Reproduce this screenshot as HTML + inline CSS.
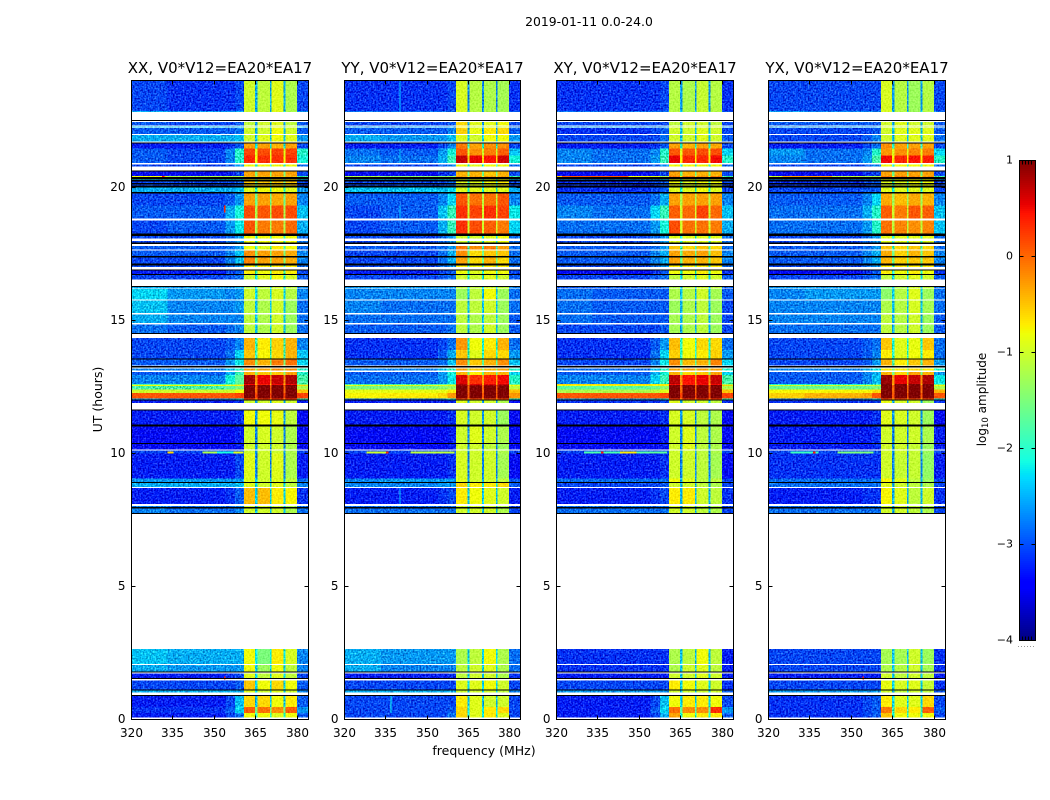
<!DOCTYPE html>
<html lang="en">
<head>
<meta charset="utf-8">
<title>2019-01-11 0.0-24.0 spectrogram</title>
<style>
html,body{margin:0;padding:0;background:#fff;width:1050px;height:800px;overflow:hidden}
svg{display:block}
text{font-family:"DejaVu Sans","Liberation Sans",sans-serif;fill:#000}
</style>
</head>
<body>
<svg id="figure" xmlns="http://www.w3.org/2000/svg" width="1050" height="800" viewBox="0 0 1050 800">
<defs>
<filter id="speckle" filterUnits="userSpaceOnUse" x="0" y="0" width="1050" height="800" color-interpolation-filters="sRGB">
<feTurbulence type="fractalNoise" baseFrequency="0.6" numOctaves="1" seed="4" result="t"/>
<feColorMatrix in="t" type="matrix" values="1 0 0 0 0 1 0 0 0 0 1 0 0 0 0 0 0 0 0 1" result="g"/>
<feComposite in="SourceGraphic" in2="g" operator="arithmetic" k1="0" k2="1" k3="1" k4="-0.53" result="n"/>
<feComposite in="n" in2="SourceGraphic" operator="in"/>
</filter>
<filter id="grain" filterUnits="userSpaceOnUse" x="0" y="0" width="1050" height="800" color-interpolation-filters="sRGB">
<feTurbulence type="fractalNoise" baseFrequency="0.6" numOctaves="1" seed="9" result="t"/>
<feColorMatrix in="t" type="matrix" values="1 0 0 0 0 1 0 0 0 0 1 0 0 0 0 0 0 0 0 1" result="g"/>
<feComposite in="SourceGraphic" in2="g" operator="arithmetic" k1="0" k2="1" k3="0.35" k4="-0.175" result="n"/>
<feComposite in="n" in2="SourceGraphic" operator="in"/>
</filter>
</defs>
<text x="589" y="26" font-size="12.4" text-anchor="middle">2019-01-11 0.0-24.0</text>
<text x="484" y="755" font-size="12.5" text-anchor="middle">frequency (MHz)</text>
<text transform="translate(102,399.5) rotate(-90)" font-size="12.5" text-anchor="middle">UT (hours)</text>
<text transform="translate(986,399.5) rotate(-90)" font-size="12" text-anchor="middle">log<tspan font-size="8.5" dy="2">10</tspan><tspan dy="-2"> amplitude</tspan></text>
</svg>
<script>
// ---------- chart data ----------
const panelTitles = ["XX, V0*V12=EA20*EA17","YY, V0*V12=EA20*EA17","XY, V0*V12=EA20*EA17","YX, V0*V12=EA20*EA17"];
const freqTicks = [320,335,350,365,380];
const utTicks = [0,5,10,15,20];
const colorTicks = [1,0,-1,-2,-3,-4];
const colorTickLabels = ["1","0","\u22121","\u22122","\u22123","\u22124"];
const colorMin = -4;
const colorMax = 1;
const freqRange = [320,384];
const utRange = [0,24];

// Frequency bands in MHz; band index refers to a column of the level rows.
// Level row columns: 0 left-low, 1 left-high, 2 shoulder-a, 3 shoulder-b, 4..7 spectral windows, 8 window gaps, 9 right edge
const bandStarts = [320,333,354,357.5,360.6,364.7,365.5,370,370.7,375,375.7,379.9];
const bandEnds   = [333,354,357.5,360.6,364.7,365.5,370,370.7,375,375.7,379.9,384];
const bandColumns = [0,1,2,3,4,8,5,8,6,8,7,9];

// UT spans (hours) with valid data; anything else stays white.
const dataSpans = [[24,22.85],[22.85,22.81],[22.45,22.31],[22.28,22.25],[22.21,22],[21.96,21.71],[21.65,21.45],[21.45,21.19],[21.19,20.9],[20.85,20.77],[20.58,20.42],[20.42,20.37],[20.3,20.28],[20.21,20.15],[20.1,20.06],[19.99,19.81],[19.75,19.31],[19.31,18.81],[18.75,18.25],[18.16,18.06],[17.97,17.92],[17.79,17.66],[17.62,17.4],[17.35,17.12],[17.06,16.99],[16.87,16.74],[16.71,16.53],[16.25,16.19],[16.16,15.78],[15.74,15.26],[15.22,14.89],[14.83,14.52],[14.33,13.87],[13.87,13.55],[13.52,13.3],[13.18,13.11],[13.05,12.93],[12.93,12.61],[12.61,12.57],[12.57,12.52],[12.52,12.39],[12.39,12.26],[12.26,12.05],[12.05,12.01],[11.98,11.89],[11.62,11.08],[11,10.38],[10.35,10.14],[10.1,10.06],[10.06,10],[10,9.05],[9.05,8.92],[8.88,8.74],[8.7,8.09],[8.01,7.99],[7.93,7.76],[2.65,2.08],[2.05,1.81],[1.72,1.56],[1.46,1.13],[1.11,1.01],[0.89,0.47],[0.47,0.24],[0.24,0.08]];
// UT spans flagged black in every panel.
const blackSpans = [[22.52,22.48],[21.67,21.65],[20.62,20.58],[20.37,20.3],[20.28,20.21],[20.15,20.1],[20.06,19.99],[19.81,19.75],[18.25,18.16],[17.92,17.85],[17.4,17.35],[17.12,17.06],[16.91,16.87],[16.74,16.71],[16.28,16.25],[14.52,14.47],[13.55,13.52],[13.27,13.23],[12.01,11.98],[11.64,11.62],[11.08,11],[10.38,10.35],[8.92,8.88],[7.99,7.93],[7.76,7.72],[1.81,1.78],[1.56,1.52],[1.13,1.11],[0.92,0.89]];

const xxLevels = [
[-3,-3.1,-3.1,-3,-1,-1.1,-.9,-1.2,-2.5,-3],[-2.5,-2.6,-2.6,-2.5,-1,-1.1,-.9,-1.2,-2.3,-2.6],[-2.9,-3,-3,-2.9,-1.1,-1,-.9,-1.1,-2.6,-2.9],[-2.4,-2.4,-2.4,-2.4,-1,-1,-.9,-1,-2.3,-2.5],[-2.9,-2.9,-2.9,-2.8,-1,-1,-.8,-1,-2.5,-2.9],[-2.5,-2.5,-2.5,-2.4,-1,-.9,-.8,-.9,-2.4,-2.6],[-3.2,-3.2,-3.1,-2.9,-.3,-.3,-.4,-.3,-2.2,-3],[-2.9,-3,-2.7,-2,.2,.15,.2,.2,-.9,-2],[-2.9,-3,-2.7,-2,.35,.3,.3,.3,-.8,-2.1],[-3,-3,-2.9,-2.6,-.8,-.8,-.8,-.8,-2,-2.8],[-3.3,-3.3,-3.2,-3,-.3,-.3,-.3,-.3,-1.5,-3],[-.8,-1.2,-1.2,-1.2,-.4,-.4,-.4,-.4,-1,-1.8],[-2.3,-2.3,-2.2,-2.2,-.6,-.6,-.6,-.6,-1.8,-2.4],[-3,-3,-3,-2.9,-.5,-.5,-.5,-.5,-1.6,-3],[-3,-3,-3,-2.9,-.5,-.5,-.5,-.5,-1.6,-3],[-2.5,-2.5,-2.5,-2.4,-.9,-.8,-.8,-.9,-2,-2.6],[-3,-3,-2.9,-2.6,-.3,-.3,-.35,-.3,-1.6,-2.7],[-2.9,-2.9,-2.5,-2.1,.15,.1,.15,.15,-1.2,-2.4],[-3,-2.9,-2.6,-2.2,.1,-.1,-.1,0,-1.2,-2.5],[-3,-3,-2.8,-2.6,-.8,-.8,-.8,-.8,-2,-2.8],[-3,-3,-2.8,-2.6,-.8,-.8,-.8,-.8,-2,-2.8],[-2.9,-2.9,-2.8,-2.6,-.8,-.9,-.7,-.8,-1.9,-2.8],[-2.9,-2.9,-2.7,-2.4,-.2,-.3,-.3,-.35,-1.5,-2.7],[-3,-3,-2.7,-2.4,-.15,-.3,-.3,-.35,-1.5,-2.7],[-3,-3,-2.8,-2.6,-.7,-.7,-.7,-.7,-1.8,-2.8],[-3.2,-3.2,-3,-2.9,-.7,-.8,-.7,-.7,-1.9,-3],[-3,-3,-2.9,-2.8,-1,-.9,-.8,-.95,-2.2,-2.9],[-2.5,-2.6,-2.6,-2.5,-1.2,-1.1,-1,-1.1,-2.3,-2.7],[-2.3,-2.6,-2.7,-2.6,-1,-1.1,-.95,-1.15,-2.3,-2.7],[-2.4,-2.7,-2.7,-2.6,-1.1,-1.2,-1,-1.3,-2.4,-2.8],[-2.5,-2.7,-2.7,-2.7,-1.1,-1.2,-1,-1.3,-2.4,-2.8],[-2.8,-2.9,-2.8,-2.7,-1.1,-1.2,-1,-1.3,-2.4,-2.8],[-3,-3,-2.9,-2.7,-.4,-.7,-.55,-.4,-1.9,-2.7],[-3,-3,-2.8,-2.3,-.5,-.75,-.6,-.4,-1.9,-2.4],[-2.9,-2.9,-2.6,-2.2,-.2,-.4,-.1,-.05,-1.5,-2.3],[-2.7,-2.7,-2.4,-2,-.3,-.3,-.2,-.2,-1.2,-2],[-2.9,-2.9,-2.5,-1.9,-.4,-.5,-.5,-.3,-1.4,-2],[-2.7,-2.7,-2.1,-1.7,.85,.55,.7,.8,-.2,-1.8],[-1.7,-1.7,-1.5,-1.3,.5,.4,.5,.5,-.4,-1.4],[-.8,-.8,-.8,-.7,1,1,1,1,.1,-.6],[-1.8,-1.8,-1.7,-1.5,1,1,1,1,0,-1.2],[-1,-1,-1,-.8,1,1,1,1,0,-.5],[.1,.1,.1,.2,1,1,1,1,.2,.2],[-2.6,-2.7,-2.5,-2.2,.2,.2,.2,.2,-.3,-2],[-3.2,-3.2,-3.2,-3.1,-1,-1,-.9,-1,-2.5,-3.2],[-3.2,-3.2,-3.2,-3.1,-.8,-.8,-.85,-1.1,-2.6,-3.3],[-3.3,-3.3,-3.3,-3.2,-1,-.95,-1,-1.2,-2.7,-3.3],[-3.3,-3.3,-3.3,-3.2,-1,-1,-1,-1.2,-2.7,-3.3],[-3,-3,-3,-3,-1,-1,-1,-1.2,-2.6,-3],[-3,-3,-3,-2.9,-1,-1,-1,-1.2,-2.6,-3],[-3.2,-3.2,-3.2,-3,-.9,-1,-.9,-1.2,-2.7,-3.2],[-2.6,-2.6,-2.6,-2.6,-.9,-1,-.9,-1.1,-2.4,-2.8],[-2.5,-2.5,-2.5,-2.4,-.9,-1,-.9,-1.1,-2.3,-2.7],[-3.2,-3.2,-3.1,-2.9,-.45,-.45,-.7,-.75,-2.3,-3.1],[-2.7,-2.8,-2.8,-2.7,-1,-1,-1,-1.2,-2.4,-2.8],[-2.7,-2.8,-2.8,-2.7,-1,-1,-1,-1.2,-2.4,-2.8],[-2.4,-2.5,-2.5,-2.5,-.8,-1.5,-.7,-.95,-2.2,-2.7],[-2.5,-2.6,-2.6,-2.6,-.8,-1.3,-.8,-1.1,-2.3,-2.7],[-3.2,-3.2,-3.1,-3,-.9,-1.1,-.9,-1.1,-2.3,-3],[-3,-3,-3,-2.9,-.5,-.8,-.6,-.8,-2.3,-2.9],[-2.5,-2.5,-2.5,-2.5,-.9,-1,-.9,-1,-2.3,-2.7],[-3.2,-3.2,-3,-2.4,-.6,-.6,-.8,-.7,-2.4,-2.9],[-3.1,-3.1,-2.9,-2.3,.05,-.05,-.2,.05,-1.5,-2.6],[-3.2,-3.2,-3,-2.8,-.8,-.8,-.9,-.8,-2,-2.9]
];
const yyLevels = [
[-3.1,-3.1,-3.1,-3,-.95,-1.15,-1.2,-1.25,-2.7,-3.1],[-2.8,-2.8,-2.8,-2.8,-.95,-1.15,-1.2,-1.25,-2.6,-2.9],[-3,-3,-3,-2.9,-.6,-.9,-.9,-.8,-2.6,-3],[-2.6,-2.6,-2.6,-2.6,-.7,-1,-.9,-.9,-2.5,-2.7],[-2.9,-2.9,-2.9,-2.7,-.55,-.85,-.7,-.6,-2.5,-2.9],[-2.5,-2.6,-2.6,-2.4,-.9,-1,-.8,-.8,-2.3,-2.6],[-3.2,-3.2,-3,-2.7,-.1,-.3,-.2,-.2,-2,-3],[-2.8,-2.9,-2.6,-2.1,.1,-.2,-.1,.05,-1,-2.4],[-2.7,-2.8,-2.5,-1.9,.7,.55,.45,.65,-.6,-2.1],[-3,-3,-2.9,-2.7,-.8,-.9,-.8,-.8,-2,-2.8],[-3.3,-3.3,-3.1,-3,-.4,-.4,-.5,-.4,-1.6,-3],[-1.2,-1.4,-1.4,-1.3,-.3,-.3,-.3,-.3,-1,-1.8],[-2.4,-2.4,-2.3,-2.2,-.9,-.9,-.8,-.8,-2,-2.4],[-3,-3,-3,-2.8,-.9,-.9,-.8,-.7,-2,-3],[-3,-3,-3,-2.8,-.9,-.9,-.8,-.7,-2,-3],[-2.4,-2.4,-2.4,-2.3,-.9,-.9,-.9,-.9,-2.1,-2.5],[-2.9,-2.9,-2.7,-2.3,.1,-.05,-.05,.1,-1.1,-2.7],[-3,-2.9,-2.4,-1.9,.3,.2,.3,.2,-1,-2.2],[-3,-2.9,-2.5,-1.9,.3,.15,.05,-.1,-1,-2.3],[-3,-3,-2.8,-2.6,-1,-1,-.9,-.8,-2.2,-2.8],[-3,-3,-2.8,-2.6,-1,-1,-.9,-.8,-2.2,-2.8],[-2.9,-2.9,-2.8,-2.6,-.1,-.2,-.1,-.3,-1.9,-2.8],[-3,-3,-2.8,-2.5,-.2,-.6,-.5,-.5,-1.6,-2.8],[-3,-3,-2.8,-2.5,-.3,-.6,-.4,-.6,-1.6,-2.8],[-3,-3,-2.8,-2.6,-.7,-.8,-.7,-.7,-1.9,-2.8],[-3.2,-3.2,-3,-2.9,-.8,-.9,-.8,-.8,-2,-3],[-3,-3,-2.9,-2.8,-1,-1,-.9,-1,-2.2,-2.9],[-2.6,-2.6,-2.6,-2.6,-1.1,-1.1,-1,-1.1,-2.3,-2.7],[-2.7,-2.7,-2.7,-2.7,-1.3,-1.1,-.8,-1.3,-2.4,-2.8],[-2.7,-2.8,-2.8,-2.8,-1.1,-1.1,-1,-1.3,-2.4,-2.8],[-2.8,-2.8,-2.8,-2.8,-1.1,-1.2,-1.1,-1.3,-2.4,-2.9],[-2.9,-2.9,-2.9,-2.8,-1.1,-1.2,-1,-1.3,-2.4,-2.9],[-3.1,-3.1,-3,-2.8,-.25,-.8,-.7,-.4,-2.1,-2.8],[-3.1,-3.1,-2.9,-2.5,-.5,-.9,-.6,-.6,-2,-2.6],[-2.9,-2.9,-2.8,-2.4,-.2,-.5,-.4,-.2,-1.7,-2.4],[-2.7,-2.7,-2.4,-2,-.3,-.5,-.4,-.3,-1.4,-2],[-2.9,-2.9,-2.6,-2.1,-.4,-.7,-.4,-.4,-1.6,-2.3],[-2.8,-2.8,-2.6,-2.2,.6,.3,.4,.5,-.3,-2],[-1.8,-1.8,-1.7,-1.5,.8,.6,.6,.7,-.4,-1.6],[-.9,-.9,-.9,-.9,.9,.9,.9,.9,.1,-.8],[-1.5,-1.5,-1.4,-1.3,1,1,1,1,0,-1.1],[-.85,-.85,-.85,-.7,1,1,1,1,0,-.45],[-.75,-.7,-.6,-.25,1,1,1,1,.1,-.25],[-2.8,-2.8,-2.6,-2.2,.1,.1,.1,.1,-.5,-2.2],[-3.2,-3.2,-3.2,-3.1,-.9,-1,-1,-1.2,-2.6,-3.3],[-3.2,-3.2,-3.2,-3.1,-.95,-1,-1,-1.3,-2.6,-3.3],[-3.3,-3.3,-3.3,-3.2,-1,-.9,-1,-1.2,-2.7,-3.3],[-3.3,-3.3,-3.3,-3.2,-1,-1,-1.1,-1.3,-2.7,-3.3],[-3,-3,-3,-3,-1,-1,-1,-1.2,-2.6,-3],[-3,-3,-3,-2.9,-1,-1,-1,-1.2,-2.6,-3],[-3.2,-3.2,-3.2,-3.1,-.95,-1,-1,-1.25,-2.7,-3.3],[-2.7,-2.6,-2.6,-2.6,-.9,-1,-1,-1.1,-2.5,-2.9],[-2.7,-2.7,-2.6,-2.6,-.6,-.7,-.7,-.6,-2.2,-2.9],[-3.2,-3.2,-3.1,-3,-.7,-.8,-.9,-1,-2.4,-3.2],[-2.8,-2.8,-2.8,-2.8,-1,-1,-1,-1.2,-2.4,-3],[-2.8,-2.8,-2.8,-2.8,-1,-1,-1,-1.2,-2.4,-3],[-2.5,-2.6,-2.6,-2.6,-1.2,-1.1,-.8,-1.2,-2.3,-2.8],[-2.5,-2.7,-2.7,-2.7,-1.1,-1,-.9,-1.2,-2.3,-2.8],[-3.2,-3.2,-3.2,-3.1,-1.1,-1,-1,-1.2,-2.4,-3.1],[-3,-3,-3,-3,-.9,-.9,-.8,-1,-2.3,-3],[-2.5,-2.5,-2.5,-2.5,-1,-1,-1,-1.1,-2.3,-2.7],[-3,-3,-3,-3,-.7,-.9,-1,-1,-2.4,-3],[-3,-3,-3,-2.9,-.6,-.9,-.7,-.6,-2.2,-3],[-3,-3,-3,-2.8,-.6,-.9,-.7,-.9,-2.2,-3]
];
const xyLevels = [
[-3.1,-3.1,-3.1,-3,-1.15,-1.2,-1.05,-1.15,-2.6,-3.1],[-2.8,-2.8,-2.8,-2.8,-1.15,-1.2,-1.05,-1.15,-2.4,-2.9],[-3,-3,-3,-3,-1.1,-1,-1,-1.1,-2.6,-3],[-2.6,-2.6,-2.6,-2.6,-1,-1,-1,-1,-2.4,-2.7],[-3.1,-3.1,-3,-2.9,-1,-1,-.9,-1,-2.4,-3],[-3,-3,-3,-2.8,-1,-1,-.9,-1,-2.4,-2.9],[-3.2,-3.2,-3.1,-2.9,-.3,-.4,-.3,-.35,-2,-3],[-2.7,-2.8,-2.7,-2,.1,.1,.15,.15,-.9,-2.3],[-2.7,-2.8,-2.6,-1.9,.55,.35,.35,.5,-.7,-2],[-3,-3,-2.9,-2.7,-.8,-.8,-.8,-.8,-2,-2.8],[-3.3,-3.3,-3.2,-3,-.3,-.4,-.4,-.4,-1.6,-3],[-.5,-.8,-.9,-1.2,-.1,-.1,-.2,-.1,-.8,-1.8],[-2.7,-2.7,-2.6,-2.4,-.8,-.8,-.8,-.8,-2,-2.6],[-3.1,-3.1,-3,-2.9,-.8,-.9,-.8,-.8,-1.8,-3],[-3.1,-3.1,-3,-2.9,-.8,-.9,-.8,-.8,-1.8,-3],[-3.1,-3.1,-3,-2.9,-.9,-.9,-.8,-.9,-2.1,-3],[-2.9,-2.9,-2.8,-2.5,-.3,-.3,-.3,-.3,-1.2,-2.7],[-2.7,-2.8,-2.3,-1.9,.05,0,.2,0,-1,-2.4],[-2.8,-2.8,-2.6,-2.1,.15,-.05,-.05,-.1,-1,-2.5],[-3,-3,-2.8,-2.6,-.9,-.9,-.9,-.9,-2.1,-2.8],[-3,-3,-2.8,-2.6,-.9,-.9,-.9,-.9,-2.1,-2.8],[-2.9,-2.9,-2.8,-2.6,-.5,-.6,-.5,-.6,-1.9,-2.8],[-2.9,-2.9,-2.7,-2.5,-.3,-.35,-.3,-.45,-1.6,-2.7],[-2.9,-2.9,-2.7,-2.5,-.3,-.4,-.4,-.5,-1.6,-2.7],[-3,-3,-2.8,-2.6,-.7,-.7,-.7,-.7,-1.9,-2.8],[-3.3,-3.3,-3.1,-2.9,-.8,-.8,-.7,-.8,-2,-3.1],[-3,-3,-2.9,-2.8,-1.1,-1,-.9,-1,-2.3,-2.9],[-2.9,-2.9,-2.8,-2.8,-1.2,-1.1,-1,-1.1,-2.4,-2.9],[-2.8,-2.9,-2.9,-2.9,-1.2,-1.15,-1,-1.25,-2.4,-2.9],[-2.8,-2.9,-2.9,-2.9,-1.3,-1.2,-1.1,-1.3,-2.5,-3],[-2.8,-2.9,-2.9,-2.9,-1.25,-1.2,-1.1,-1.3,-2.5,-3],[-3,-3,-3,-2.9,-1.25,-1.2,-1.1,-1.3,-2.5,-3],[-3.1,-3.1,-2.9,-2.6,-.45,-.8,-.6,-.6,-2,-2.8],[-3.1,-3.1,-2.8,-2.3,-.55,-.8,-.7,-.55,-2,-2.6],[-3,-3,-2.7,-2.2,-.2,-.45,-.4,-.15,-1.7,-2.3],[-2.8,-2.8,-2.4,-2,-.3,-.3,-.3,-.3,-1.3,-2],[-2.9,-2.9,-2.5,-2.1,-.4,-.6,-.5,-.3,-1.5,-2.3],[-2.7,-2.7,-2.3,-1.9,.75,.45,.55,.7,-.2,-1.8],[-.6,-.6,-.7,-.7,.5,.4,.5,.5,-.4,-1.2],[-.8,-.8,-.8,-.7,1,1,1,1,.1,-.6],[-1.7,-1.7,-1.6,-1.4,1,1,1,1,0,-1.2],[-1.2,-1.2,-1.1,-.9,1,1,1,1,0,-.5],[.1,.1,.1,.2,1,1,1,1,.2,.2],[-2.6,-2.6,-2.5,-2.2,.2,.2,.2,.2,-.3,-2],[-3.1,-3.1,-3.1,-3,-.9,-1,-1,-1.1,-2.5,-3.1],[-3.2,-3.2,-3.2,-3.1,-.95,-.95,-1.1,-1.2,-2.6,-3.3],[-3.3,-3.3,-3.3,-3.2,-1,-.9,-1.1,-1.2,-2.7,-3.3],[-3.3,-3.3,-3.3,-3.2,-1,-.9,-1.1,-1.2,-2.7,-3.3],[-3,-3,-3,-3,-1,-1,-1.1,-1.2,-2.6,-3],[-3,-3,-3,-2.9,-1,-1,-1.1,-1.2,-2.6,-3],[-3.2,-3.2,-3.2,-3.1,-1,-1,-1.1,-1.25,-2.7,-3.3],[-2.8,-2.8,-2.8,-2.8,-.8,-.9,-1.1,-1.1,-2.5,-3],[-3,-3,-3,-2.9,-1,-1,-1.1,-1.2,-2.5,-3],[-3.2,-3.2,-3.1,-3,-.7,-.7,-1,-1.1,-2.5,-3.1],[-2.8,-2.8,-2.8,-2.8,-1,-1,-1.1,-1.2,-2.5,-3],[-2.8,-2.8,-2.8,-2.8,-1,-1,-1.1,-1.2,-2.5,-3],[-3.1,-3.1,-3.1,-3.1,-1.2,-1.1,-.8,-1.1,-2.4,-3.2],[-3.1,-3.1,-3.1,-3.1,-1.2,-1,-.9,-1.1,-2.4,-3.2],[-3.2,-3.2,-3.2,-3.2,-1,-1,-.9,-1,-2.4,-3.2],[-3,-3,-3,-3,-.7,-.8,-.9,-1,-2.3,-3.1],[-2.6,-2.6,-2.6,-2.6,-1,-1,-1,-1,-2.4,-2.9],[-3.2,-3.2,-3,-2.4,-.8,-.7,-.7,-.8,-2.3,-3],[-3.2,-3.2,-2.9,-2.3,-.05,-.2,-.2,.3,-1.7,-2.6],[-3.2,-3.2,-3,-2.5,-.3,-.8,-.7,-.7,-2.1,-2.9]
];
const yxLevels = [
[-3,-3,-3,-3,-.95,-1.15,-1.3,-1.15,-2.6,-3],[-2.6,-2.7,-2.7,-2.7,-.95,-1.15,-1.3,-1.15,-2.4,-2.8],[-2.9,-2.9,-2.9,-2.9,-1,-.9,-1,-1,-2.5,-2.9],[-2.6,-2.6,-2.6,-2.6,-1,-1,-1,-1,-2.4,-2.7],[-3,-3,-3,-2.9,-1,-.9,-.9,-.9,-2.4,-2.9],[-3,-3,-2.9,-2.7,-1,-.9,-.9,-.9,-2.4,-2.8],[-3.2,-3.2,-3,-2.8,-.2,-.3,-.3,-.3,-2,-3],[-2.6,-2.8,-2.7,-2,-.25,-.2,-.15,-.1,-.9,-2.3],[-2.7,-2.8,-2.6,-1.8,.5,.35,.45,.4,-.7,-2],[-3,-3,-2.9,-2.7,-.8,-.8,-.8,-.8,-2,-2.8],[-3.3,-3.3,-3.1,-3,-.3,-.3,-.3,-.3,-1.6,-3],[-1,-1.1,-1.2,-1.2,-.1,-.1,-.2,-.2,-.9,-1.8],[-2.7,-2.7,-2.6,-2.4,-.9,-.8,-.8,-.8,-2,-2.6],[-3.1,-3.1,-3,-2.9,-.9,-.9,-.8,-.8,-1.9,-3],[-3.1,-3.1,-3,-2.9,-.9,-.9,-.8,-.8,-1.9,-3],[-3,-3,-2.9,-2.9,-.9,-.9,-.9,-.9,-2.2,-3],[-2.9,-2.9,-2.7,-2.3,-.35,-.45,-.35,-.4,-1.3,-2.7],[-2.8,-2.8,-2.5,-2,.05,-.1,.1,.05,-1,-2.4],[-2.8,-2.8,-2.6,-2,-.05,-.15,-.2,-.15,-1.1,-2.4],[-3,-3,-2.8,-2.6,-.9,-.9,-.9,-.9,-2.1,-2.8],[-3,-3,-2.8,-2.6,-.9,-.9,-.9,-.9,-2.1,-2.8],[-2.9,-2.9,-2.8,-2.6,-.5,-.6,-.5,-.6,-1.9,-2.8],[-2.9,-2.9,-2.7,-2.5,-.35,-.55,-.4,-.5,-1.6,-2.7],[-2.9,-2.9,-2.7,-2.5,-.4,-.55,-.5,-.5,-1.6,-2.7],[-3,-3,-2.8,-2.6,-.7,-.7,-.7,-.7,-1.9,-2.8],[-3.3,-3.3,-3.1,-2.9,-.7,-.8,-.7,-.8,-2,-3.1],[-3,-3,-2.9,-2.8,-1.1,-1,-.9,-1,-2.3,-2.9],[-2.6,-2.6,-2.6,-2.6,-1.5,-1.2,-1,-1.1,-2.4,-2.8],[-2.7,-2.6,-2.6,-2.6,-1.4,-1.15,-.9,-1.3,-2.3,-2.8],[-2.7,-2.7,-2.7,-2.7,-1.2,-1.15,-.95,-1.25,-2.4,-2.8],[-2.7,-2.7,-2.7,-2.7,-1.1,-1.15,-1,-1.3,-2.5,-2.9],[-2.8,-2.8,-2.8,-2.8,-1.1,-1.15,-1,-1.3,-2.5,-2.9],[-3,-3,-2.9,-2.8,-.5,-.9,-.85,-.5,-2.1,-2.8],[-3,-3,-2.9,-2.7,-.7,-.9,-.8,-.7,-2,-2.8],[-3,-3,-2.9,-2.6,-.4,-.7,-.5,-.4,-1.8,-2.6],[-2.7,-2.7,-2.5,-2.2,-.7,-.7,-.6,-.7,-1.5,-2],[-2.9,-2.9,-2.7,-2.5,-.4,-.55,-.3,-.4,-1.6,-2.6],[-2.9,-2.9,-2.7,-2.4,.9,.55,.7,.8,-.2,-2.2],[-2,-2,-1.9,-1.8,1,1,1,1,-.4,-1.6],[-1,-1,-1,-1,1,1,1,1,.1,-.8],[-1.6,-1.6,-1.6,-1.5,1,1,1,1,0,-1.2],[-.75,-.75,-.75,-.6,1,1,1,1,0,-.4],[-.55,-.4,-.3,.1,1,1,1,1,.1,.1],[-2.8,-2.8,-2.6,-2.3,.1,.1,.1,.1,-.5,-2.2],[-3.1,-3.1,-3.1,-3,-.85,-.95,-1,-1.3,-2.5,-3.1],[-3.2,-3.2,-3.2,-3.1,-.9,-.95,-1,-1.3,-2.6,-3.3],[-3.2,-3.2,-3.2,-3.1,-1,-1,-1,-1.2,-2.7,-3.2],[-3.2,-3.2,-3.2,-3.1,-1,-1,-1.05,-1.3,-2.7,-3.2],[-3,-3,-3,-3,-1,-1,-1.05,-1.3,-2.6,-3],[-3,-3,-3,-2.9,-1,-1,-1.05,-1.3,-2.6,-3],[-3.1,-3.1,-3.1,-3.1,-1,-1.05,-1.05,-1.35,-2.7,-3.2],[-2.8,-2.8,-2.8,-2.8,-.75,-.9,-1.1,-1.3,-2.5,-3],[-2.8,-2.8,-2.8,-2.8,-.9,-1,-1.1,-1.2,-2.5,-3],[-3.2,-3.2,-3.1,-3.1,-.75,-.9,-1.1,-1,-2.5,-3.1],[-2.8,-2.8,-2.8,-2.8,-1,-1,-1.1,-1.2,-2.5,-3],[-2.8,-2.8,-2.8,-2.8,-1,-1,-1.1,-1.2,-2.5,-3],[-3,-3,-3,-3,-1.25,-1.25,-1,-1.3,-2.4,-3.1],[-3,-3,-3,-3,-1.2,-1.15,-1,-1.25,-2.4,-3.1],[-3.2,-3.2,-3.2,-3.2,-1,-1.1,-1,-1.1,-2.4,-3.2],[-3,-3,-3,-3,-.85,-.95,-.9,-1.05,-2.3,-3.1],[-2.6,-2.6,-2.6,-2.6,-1,-1.1,-1,-1.1,-2.4,-2.9],[-3.1,-3.1,-3,-2.9,-.7,-.9,-.9,-.6,-2.3,-3],[-3.1,-3.1,-3,-2.9,-.1,-.6,-.7,.05,-1.9,-2.9],[-3.1,-3.1,-3,-2.9,-.5,-.8,-.8,-.8,-2.1,-3]
];
// Narrow interference: [UT top, UT bottom, MHz start, MHz end, level]
const xxRfi = [[10.06,10,333,335.2,-.6],[10.06,10,345.7,351,-1.2],[10.06,10,351,356.9,-2.1],[10.06,10,356.9,360.5,-.9],[20.42,20.37,331,332,.4],[19.3,19.05,353.5,354,.4],[1.62,1.5,353.5,354,.4]];
const yyRfi = [[10.06,10,328,336,-1],[10.06,10,335,336,.3],[10.06,10,344,360,-1.1],[24,22.85,340,340.4,-2.4],[21.45,20.9,340,340.4,-2.4],[19.31,18.81,340,340.4,-2.4],[8.7,8.09,340,340.4,-2.4],[0.89,0.24,336.7,337.1,-2.2]];
const xyRfi = [[10.06,10,330,346,-1.8],[10.06,10,336,337,.4],[10.06,10,343,349,-.7],[10.06,10,349,360,-1.7],[20.42,20.37,322,346,.1]];
const yxRfi = [[10.06,10,328,338,-1.9],[10.06,10,336,337,.4],[10.06,10,345,358,-1.5],[20.42,20.37,325,343,-.3],[1.62,1.5,354,354.5,.4]];

const panelLevels = [xxLevels,yyLevels,xyLevels,yxLevels];
const panelRfi = [xxRfi,yyRfi,xyRfi,yxRfi];
const panelNames = ["xx","yy","xy","yx"];

// ---------- layout ----------
const frameLeft = [131.5,344.5,556.5,768.5];
const frameRight = [308.5,520.5,733.5,945.5];
const frameTop = 80.5;
const frameBottom = 719.5;
const speckleBelow = -1.7;
const svgNS = "http://www.w3.org/2000/svg";
const fig = document.getElementById("figure");

function make(tag, attrs, parent){
  const e = document.createElementNS(svgNS, tag);
  for (const k in attrs) e.setAttribute(k, attrs[k]);
  parent.appendChild(e);
  return e;
}
function lerpStops(t, stops){
  if (t <= stops[0][0]) return stops[0][1];
  for (let i = 1; i < stops.length; i++){
    if (t <= stops[i][0]){
      const a = stops[i-1], b = stops[i];
      return a[1] + (b[1]-a[1]) * (t-a[0]) / (b[0]-a[0]);
    }
  }
  return stops[stops.length-1][1];
}
const jetR = [[0,0],[.35,0],[.66,1],[.89,1],[1,.5]];
const jetG = [[0,0],[.125,0],[.375,1],[.64,1],[.91,0],[1,0]];
const jetB = [[0,.5],[.11,1],[.34,1],[.65,0],[1,0]];
function colorOf(level){
  const t = Math.max(0, Math.min(1, (level-colorMin)/(colorMax-colorMin)));
  const c = [jetR,jetG,jetB].map(s => Math.round(255*lerpStops(t,s)));
  return "rgb(" + c.join(",") + ")";
}
function yScale(ut){
  return frameBottom - (ut-utRange[0])/(utRange[1]-utRange[0])*(frameBottom-frameTop);
}
function xScale(p, f){
  return frameLeft[p] + (f-freqRange[0])/(freqRange[1]-freqRange[0])*(frameRight[p]-frameLeft[p]);
}

// ---------- panels ----------
panelLevels.forEach(function(levels, p){
  const panel = make("g", {}, fig);
  
  
  const noisy = make("g", {filter:"url(#speckle)","shape-rendering":"crispEdges"}, panel);
  
  
  const smooth = make("g", {filter:"url(#grain)","shape-rendering":"crispEdges"}, panel);
  
  

  dataSpans.forEach(function(span, r){
    const y0 = yScale(span[0]), y1 = yScale(span[1]);
    bandColumns.forEach(function(col, b){
      const x0 = xScale(p, bandStarts[b]), x1 = xScale(p, bandEnds[b]);
      const lv = levels[r][col];
      const group = lv < speckleBelow ? noisy : smooth;
      const cell = make("rect", {x:x0, y:y0, width:x1-x0, height:Math.max(1,y1-y0), fill:colorOf(lv)}, group);
      
      
    });
  });

  panelRfi[p].forEach(function(h){
    const x0 = xScale(p,h[2]), x1 = xScale(p,h[3]), y0 = yScale(h[0]), y1 = yScale(h[1]);
    const mark = make("rect", {x:x0, y:y0, width:Math.max(1,x1-x0), height:Math.max(1,y1-y0), fill:colorOf(h[4]), "shape-rendering":"crispEdges"}, panel);
    
    
  });

  blackSpans.forEach(function(span){
    const y0 = yScale(span[0]), y1 = yScale(span[1]);
    const band = make("rect", {x:frameLeft[p], y:y0, width:frameRight[p]-frameLeft[p], height:Math.max(1,y1-y0), fill:"#000", "shape-rendering":"crispEdges"}, panel);
    
    
  });

  const frame = make("rect", {x:frameLeft[p], y:frameTop, width:frameRight[p]-frameLeft[p], height:frameBottom-frameTop, fill:"none", stroke:"#000", "stroke-width":1, "shape-rendering":"crispEdges"}, panel);
  
  

  const title = make("text", {x:(frameLeft[p]+frameRight[p])/2, y:73, "font-size":15, "text-anchor":"middle"}, panel);
  title.textContent = panelTitles[p];
  
  

  freqTicks.forEach(function(f){
    const x = Math.round(xScale(p,f)-.5)+.5;
    const t1 = make("line", {x1:x, x2:x, y1:frameBottom, y2:frameBottom-4, stroke:"#000", "shape-rendering":"crispEdges"}, panel);
    
    
    const t2 = make("line", {x1:x, x2:x, y1:frameTop, y2:frameTop+4, stroke:"#000", "shape-rendering":"crispEdges"}, panel);
    
    
    const lab = make("text", {x:x, y:737, "font-size":12, "text-anchor":"middle"}, panel);
    lab.textContent = String(f);
    
    
  });
  utTicks.forEach(function(u){
    const y = Math.round(yScale(u)-.5)+.5;
    const t1 = make("line", {x1:frameLeft[p], x2:frameLeft[p]+4, y1:y, y2:y, stroke:"#000", "shape-rendering":"crispEdges"}, panel);
    
    
    const t2 = make("line", {x1:frameRight[p], x2:frameRight[p]-4, y1:y, y2:y, stroke:"#000", "shape-rendering":"crispEdges"}, panel);
    
    
    const lab = make("text", {x:frameLeft[p]-6, y:y+3.5, "font-size":12, "text-anchor":"end"}, panel);
    lab.textContent = String(u);
    
    
  });
});

// ---------- colorbar ----------
const cbLeft = 1019.5, cbRight = 1035.5, cbTop = 160.5, cbBottom = 640.5;
const cb = make("g", {}, fig);


function cbY(level){
  return cbBottom - (level-colorMin)/(colorMax-colorMin)*(cbBottom-cbTop);
}
for (let i = 0; i < 240; i++){
  const lv = colorMin + (i+.5)/240*(colorMax-colorMin);
  const seg = make("rect", {x:cbLeft, y:cbY(lv)-1.25, width:cbRight-cbLeft, height:2.5, fill:colorOf(lv), "shape-rendering":"crispEdges"}, cb);
  
  
}
const cbFrame = make("rect", {x:cbLeft, y:cbTop, width:cbRight-cbLeft, height:cbBottom-cbTop, fill:"none", stroke:"#000", "shape-rendering":"crispEdges"}, cb);


colorTicks.forEach(function(v, i){
  const y = Math.round(cbY(v)-.5)+.5;
  const a = make("line", {x1:cbLeft, x2:cbLeft+4, y1:y, y2:y, stroke:"#000", "shape-rendering":"crispEdges"}, cb);
  
  
  const b = make("line", {x1:cbRight, x2:cbRight-4, y1:y, y2:y, stroke:"#000", "shape-rendering":"crispEdges"}, cb);
  
  
  const lab = make("text", {x:1013, y:y+3, "font-size":11, "text-anchor":"end"}, cb);
  lab.textContent = colorTickLabels[i];
  
  
});
[1022.5,1025.5,1028.5,1031.5].forEach(function(x){
  const t = make("line", {x1:x, x2:x, y1:cbTop, y2:cbTop+4, stroke:"#000", "shape-rendering":"crispEdges"}, cb);
  
  
  const u = make("line", {x1:x, x2:x, y1:cbBottom, y2:cbBottom-4, stroke:"#000", "shape-rendering":"crispEdges"}, cb);
  
  
});
[1018,1021,1024,1027,1030,1033].forEach(function(x){
  const d = make("rect", {x:x, y:646, width:1, height:1, fill:"#999", "shape-rendering":"crispEdges"}, cb);
  
  
});
</script>
</body>
</html>
